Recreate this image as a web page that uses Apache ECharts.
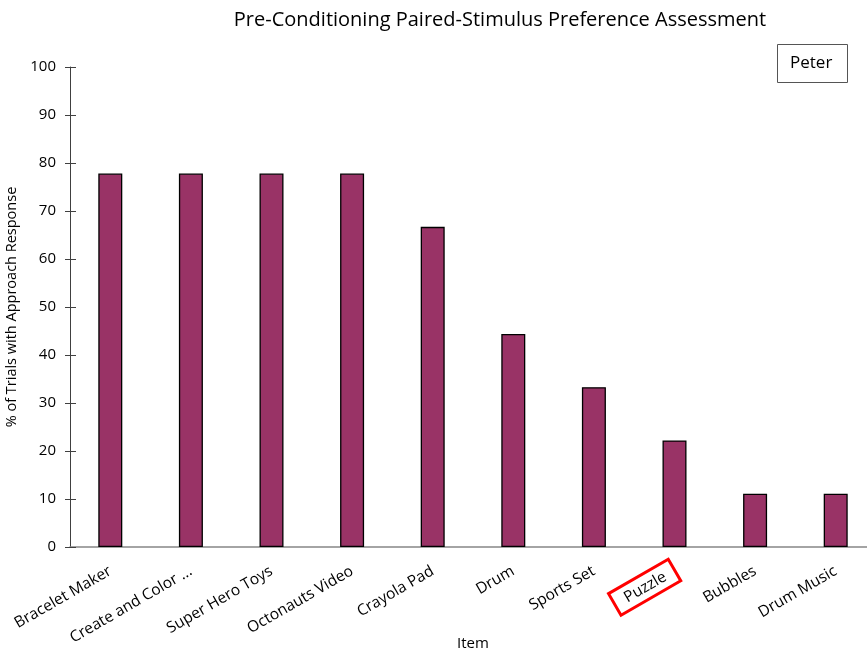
<!DOCTYPE html>
<html>
<head>
<meta charset="utf-8">
<script src="https://cdn.jsdelivr.net/npm/echarts@6/dist/echarts.min.js"></script>
<style>
  html, body { margin: 0; padding: 0; background: #fff; }
  #chart { width: 867px; height: 656px; }
</style>
</head>
<body>
<div id="chart"></div>
<script>
const items = ['Bracelet Maker', 'Create and Color ...', 'Super Hero Toys', 'Octonauts Video',
  'Crayola Pad', 'Drum', 'Sports Set', 'Puzzle', 'Bubbles', 'Drum Music']
const percents = [77.8, 77.8, 77.8, 77.8, 66.7, 44.4, 33.3, 22.2, 11.1, 11.1]
const yTicks = [0, 100, 10]  // min, max, step
const boxedItem = 'Puzzle'

const font = '"Open Sans", "Noto Sans", sans-serif'
let myChart = echarts.init(document.getElementById('chart'))
let option = {
  animation: false,
  textStyle: { fontFamily: font },
  title: [
    {
      text: 'Pre-Conditioning Paired-Stimulus Preference Assessment',
      left: 495,
      top: 5,
      textAlign: 'center',
      textStyle: { fontFamily: font, fontSize: 20, fontWeight: 'normal', color: '#000' }
    },
    {
      text: 'Peter',
      left: 777,
      top: 44,
      padding: [11, 15, 11, 13],
      borderColor: '#555',
      borderWidth: 1,
      textStyle: { fontFamily: font, fontSize: 17, fontWeight: 'normal', color: '#000' }
    }
  ],
  // the plot runs a little past the right edge of the picture
  grid: { left: 70, top: 67, width: 806, bottom: 109, outerBoundsMode: 'none' },
  xAxis: {
    type: 'category',
    data: items,
    name: 'Item',
    nameLocation: 'middle',
    nameGap: 89,
    nameMoveOverlap: false,
    nameTextStyle: { fontFamily: font, fontSize: 15, color: '#000' },
    axisLine: { lineStyle: { color: '#868686', width: 1.5 } },
    axisTick: { length: 7, lineStyle: { color: '#555' } },
    axisLabel: {
      rotate: 30,
      interval: 0,
      margin: 23,
      fontFamily: font,
      fontSize: 15.5,
      color: '#000',
      formatter: function (v) { return v === boxedItem ? '{box|' + v + '}' : v },
      rich: {
        box: {
          fontFamily: font, fontSize: 15.5, color: '#000',
          borderColor: '#ff0000', borderWidth: 3, padding: [5, 11, 4, 12]
        }
      }
    }
  },
  yAxis: [
    {
      type: 'value',
      min: yTicks[0],
      max: yTicks[1],
      interval: yTicks[2],
      name: '% of Trials with Approach Response',
      nameLocation: 'middle',
      nameGap: 49,
      nameTextStyle: { fontFamily: font, fontSize: 14.5, color: '#000' },
      axisLine: { show: true, lineStyle: { color: '#404040' } },
      axisTick: { show: true, length: 5, lineStyle: { color: '#404040' } },
      axisLabel: { fontFamily: font, fontSize: 15, color: '#000', margin: 14 },
      splitLine: { show: false }
    },
    {
      type: 'value',
      min: yTicks[0],
      max: yTicks[1],
      interval: yTicks[2],
      position: 'left',
      axisLine: { show: false },
      axisTick: { show: true, inside: true, length: 6, lineStyle: { color: '#404040' } },
      axisLabel: { show: false },
      splitLine: { show: false }
    }
  ],
  series: [
    {
      type: 'bar',
      data: percents,
      barWidth: 24,
      itemStyle: { color: '#993366', borderColor: '#000', borderWidth: 1.3 }
    }
  ]
}
myChart.setOption(option)
window.addEventListener('resize', function () {
  myChart.resize()
})
</script>
</body>
</html>
